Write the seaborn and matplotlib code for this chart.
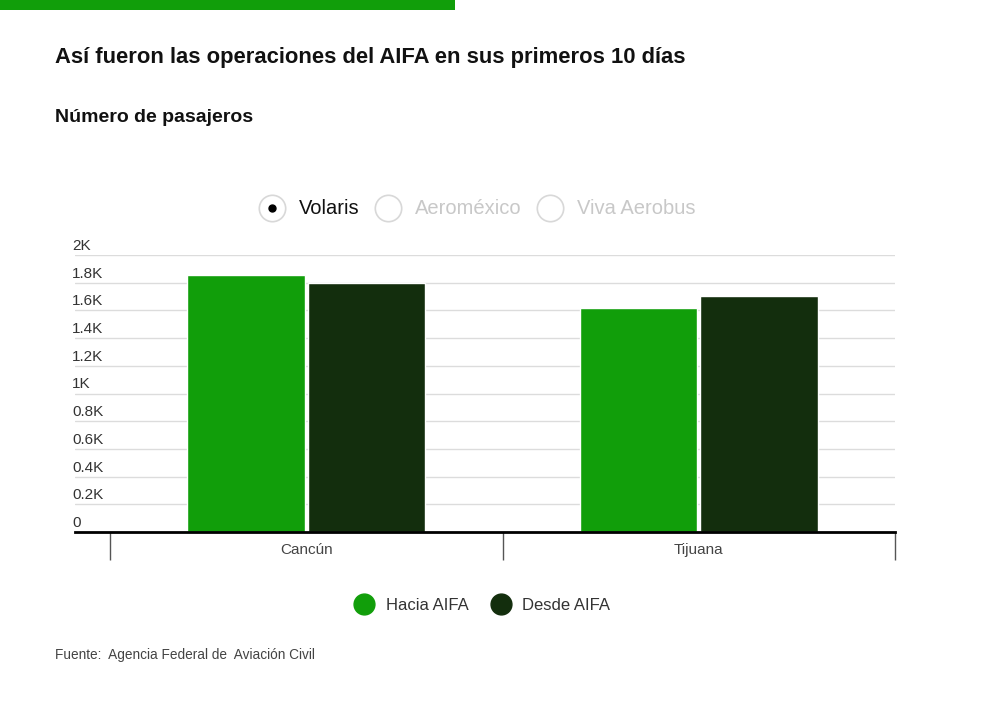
import pandas as pd
import seaborn as sns
import matplotlib.pyplot as plt
from matplotlib.lines import Line2D
from matplotlib.patches import Rectangle
from matplotlib.transforms import ScaledTranslation

# data
ciudades = ['Cancún', 'Tijuana']
hacia_aifa = [1855, 1620]
desde_aifa = [1800, 1705]
series = ['Hacia AIFA', 'Desde AIFA']
y_ticks = [0, 200, 400, 600, 800, 1000, 1200, 1400, 1600, 1800, 2000]
y_labels = ['0', '0.2K', '0.4K', '0.6K', '0.8K', '1K', '1.2K', '1.4K', '1.6K', '1.8K', '2K']
aerolineas = ['Volaris', 'Aeroméxico', 'Viva Aerobus']

verde = '#119e0a'
oscuro = '#132e0d'

df = pd.DataFrame({
    'ciudad': ciudades * 2,
    'serie': [series[0]] * 2 + [series[1]] * 2,
    'pasajeros': hacia_aifa + desde_aifa,
})

sns.set_theme(style='white')
plt.rcParams['font.family'] = ['Liberation Sans', 'DejaVu Sans']

fig = plt.figure(figsize=(10, 7.01), dpi=100)
ax = fig.add_axes([0.075, 1 - 532 / 701, 0.82, (532 - 255) / 701])

sns.barplot(data=df, x='ciudad', y='pasajeros', hue='serie', order=ciudades,
            hue_order=series, palette=[verde, oscuro], width=0.615, gap=0.025,
            saturation=1, legend=False, ax=ax)

ax.set_xlim(-0.5 - 35 / 392, 1.5)
ax.set_ylim(0, 2000)
ax.set_xlabel('')
ax.set_ylabel('')

# grid and y labels inside the plot
ax.set_yticks(y_ticks)
ax.set_yticklabels(y_labels)
ax.yaxis.grid(True, color='#dcdcdc', linewidth=1)
ax.set_axisbelow(True)
ax.tick_params(axis='y', length=0, pad=2, labelsize=11, labelcolor='#333333')
for lab in ax.get_yticklabels():
    lab.set_horizontalalignment('left')
    lab.set_verticalalignment('bottom')
    lab.set_transform(lab.get_transform() + ScaledTranslation(0, 0.02, fig.dpi_scale_trans))

for s in ['top', 'right', 'left']:
    ax.spines[s].set_visible(False)
ax.spines['bottom'].set_color('black')
ax.spines['bottom'].set_linewidth(2)

# category separators
ax.set_xticks([-0.5, 0.5, 1.5], minor=True)
ax.tick_params(axis='x', which='minor', bottom=True, length=20, width=1,
               color='#555555', direction='out')
ax.tick_params(axis='x', which='major', bottom=True, length=0, pad=8, labelsize=11,
               labelcolor='#444444')

# top decoration bar
fig.add_artist(Rectangle((0, 1 - 10 / 701), 0.455, 10 / 701, transform=fig.transFigure,
                         color=verde, linewidth=0))

fig.text(0.055, 1 - 58 / 701, 'Así fueron las operaciones del AIFA en sus primeros 10 días',
         fontsize=15.8, fontweight='bold', color='#111111', va='center')
fig.text(0.055, 1 - 118 / 701, 'Número de pasajeros',
         fontsize=14, fontweight='bold', color='#111111', va='center')

# radio selector
radio_x = [0.272, 0.388, 0.550]
for i, (name, rx) in enumerate(zip(aerolineas, radio_x)):
    y = 1 - 208 / 701
    fig.add_artist(Line2D([rx], [y], marker='o', markersize=19, markerfacecolor='white',
                          markeredgecolor='#d8d8d8', markeredgewidth=1.2,
                          transform=fig.transFigure))
    if i == 0:
        fig.add_artist(Line2D([rx], [y], marker='o', markersize=5, color='black',
                              transform=fig.transFigure))
    fig.text(rx + 0.027, y, name, fontsize=14.5, va='center',
             color='#111111' if i == 0 else '#c8c8c8')

# bottom legend
handles = [Line2D([], [], marker='o', linestyle='', markersize=15, color=c)
           for c in [verde, oscuro]]
fig.legend(handles, series, loc='center', bbox_to_anchor=(0.479, 1 - 605 / 701),
           ncol=2, frameon=False, fontsize=12, handletextpad=0.3, columnspacing=0.9,
           labelcolor='#333333')

fig.text(0.055, 1 - 655 / 701, 'Fuente:  Agencia Federal de  Aviación Civil',
         fontsize=9.8, color='#444444', va='center')

fig.savefig('out.png', dpi=100)
